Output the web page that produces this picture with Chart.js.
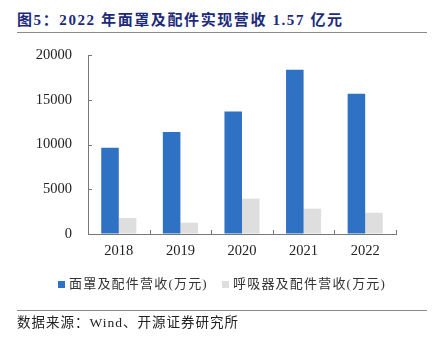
<!DOCTYPE html>
<html>
<head>
<meta charset="utf-8">
<script src="https://cdn.jsdelivr.net/npm/chart.js@4"></script>
<style>
  html, body { margin:0; padding:0; background:#fff; }
  #wrap { position:relative; width:434px; height:338px; overflow:hidden; }
  #c { position:absolute; left:0; top:0; }
  .title { position:absolute; left:17px; top:10px; font-family:"Liberation Serif","Noto Sans CJK SC",serif; font-weight:bold; font-size:15px; letter-spacing:1.6px; color:#1c2a7a; white-space:nowrap; line-height:20px; }
  .rule { position:absolute; left:17px; width:410px; height:0; border-top:1.5px solid #8a8a8a; }
  .legend { position:absolute; top:275px; left:0; width:434px; height:18px; font-family:"Liberation Serif","Noto Sans CJK SC",serif; font-size:13px; letter-spacing:1.2px; color:#333; white-space:nowrap; }
  .legend .item { position:absolute; top:0; line-height:18px; }
  .legend .box { position:absolute; top:6px; width:7px; height:7px; }
  .src { position:absolute; left:17px; top:314px; font-family:"Liberation Serif","Noto Sans CJK SC",serif; font-size:13.5px; letter-spacing:1px; color:#222; white-space:nowrap; line-height:18px; }
</style>
</head>
<body>
<div id="wrap">
  <div class="title">图5：2022 年面罩及配件实现营收 1.57 亿元</div>
  <div class="rule" style="top:32px"></div>
  <canvas id="c" width="434" height="338"></canvas>
  <div class="legend" id="legend"></div>
  <div class="rule" style="top:310px"></div>
  <div class="src">数据来源：Wind、开源证券研究所</div>
</div>
<script>
const categories = ['2018', '2019', '2020', '2021', '2022'];
const maskRevenue = [9650, 11400, 13700, 18350, 15680];
const respiratorRevenue = [1790, 1260, 3950, 2830, 2380];
const seriesLabels = ['面罩及配件营收(万元)', '呼吸器及配件营收(万元)'];
const yTicks = [0, 5000, 10000, 15000, 20000];

const colors = ['#2f72c4', '#dedede'];

// HTML legend built from the series labels
const legendEl = document.getElementById('legend');
const legendX = [58, 222];
seriesLabels.forEach((lab, i) => {
  const box = document.createElement('div');
  box.className = 'box';
  box.style.left = legendX[i] + 'px';
  box.style.background = colors[i];
  legendEl.appendChild(box);
  const t = document.createElement('div');
  t.className = 'item';
  t.style.left = (legendX[i] + 11) + 'px';
  t.textContent = lab;
  legendEl.appendChild(t);
});

const innerTicks = {
  id: 'innerTicks',
  afterDraw(chart) {
    const ctx = chart.ctx;
    const x = chart.scales.x, y = chart.scales.y;
    ctx.save();
    ctx.strokeStyle = '#777';
    ctx.lineWidth = 1;
    ctx.beginPath();
    yTicks.forEach(v => {
      const py = Math.round(y.getPixelForValue(v)) + 0.5;
      ctx.moveTo(chart.chartArea.left, py);
      ctx.lineTo(chart.chartArea.left + 4, py);
    });
    for (let i = 1; i <= categories.length; i++) {
      const px = Math.round(x.getPixelForValue(i - 0.5)) + 0.5;
      ctx.moveTo(px, chart.chartArea.bottom);
      ctx.lineTo(px, chart.chartArea.bottom - 4);
    }
    ctx.stroke();
    ctx.restore();
  }
};

new Chart(document.getElementById('c'), {
  type: 'bar',
  data: {
    labels: categories,
    datasets: [
      { label: seriesLabels[0], data: maskRevenue, backgroundColor: colors[0], categoryPercentage: 0.57, barPercentage: 1 },
      { label: seriesLabels[1], data: respiratorRevenue, backgroundColor: colors[1], categoryPercentage: 0.57, barPercentage: 1 }
    ]
  },
  options: {
    responsive: false,
    devicePixelRatio: 1,
    animation: false,
    layout: { padding: { top: 55, right: 38, bottom: 0, left: 0 } },
    plugins: { legend: { display: false }, title: { display: false }, tooltip: { enabled: false } },
    scales: {
      x: {
        grid: { display: true, drawOnChartArea: false, drawTicks: false },
        border: { display: true, color: '#777', width: 1 },
        ticks: { padding: 8, color: '#222', font: { family: '"Liberation Serif", serif', size: 14.5 } },
        afterFit(scale) { scale.height = 104; }
      },
      y: {
        min: 0, max: 20000,
        afterBuildTicks(scale) { scale.ticks = yTicks.map(v => ({ value: v })); },
        grid: { display: true, drawOnChartArea: false, drawTicks: false },
        border: { display: true, color: '#777', width: 1 },
        ticks: { padding: 16, color: '#222', font: { family: '"Liberation Serif", serif', size: 14.5 }, callback: v => String(v) },
        afterFit(scale) { scale.width = 88; }
      }
    }
  },
  plugins: [innerTicks]
});
</script>
</body>
</html>
